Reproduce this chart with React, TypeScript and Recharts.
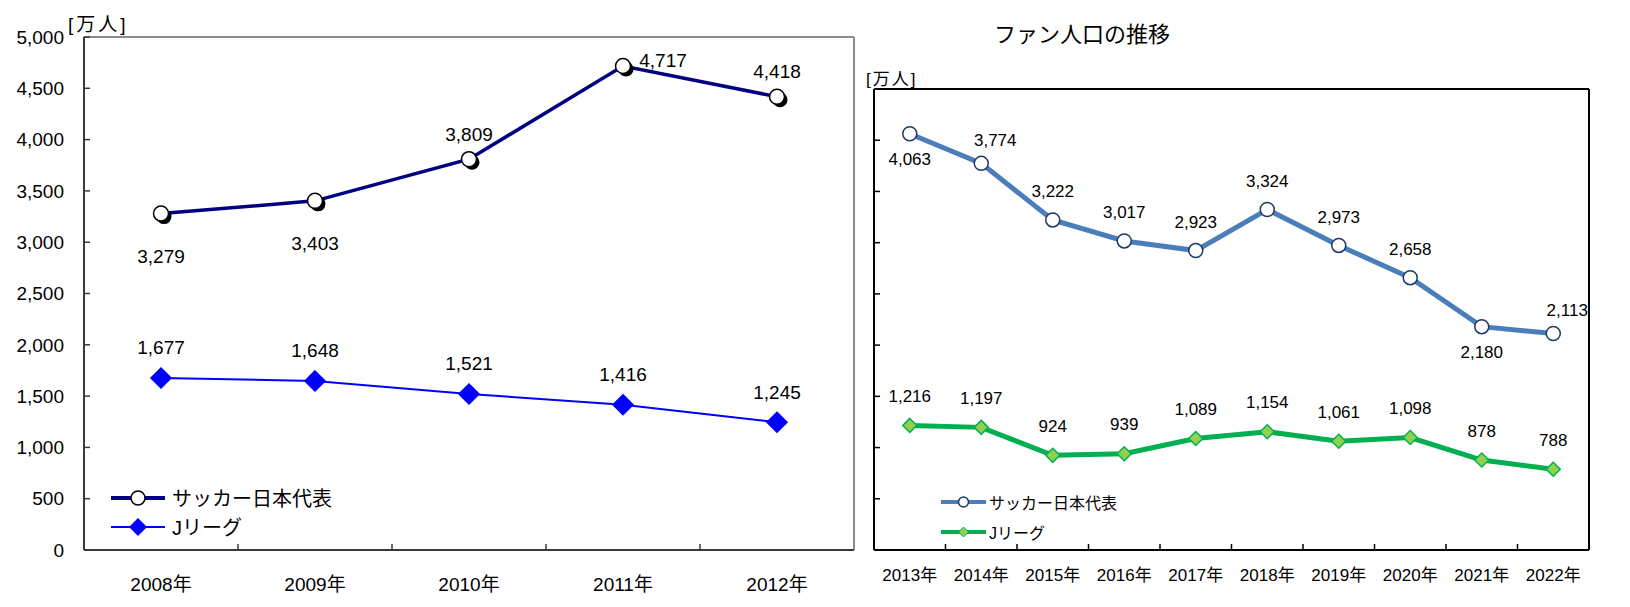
import React from 'react';
import { LineChart, Line, XAxis, YAxis, Legend, LabelList, CartesianGrid } from 'recharts';

const FONT = '"Liberation Sans", Arial, "Noto Sans CJK JP", sans-serif';

// left chart (2008-2012)
const earlyYears = ['2008年', '2009年', '2010年', '2011年', '2012年'];
const earlyNational = [3279, 3403, 3809, 4717, 4418];
const earlyJLeague = [1677, 1648, 1521, 1416, 1245];
const earlyTicks = [0, 500, 1000, 1500, 2000, 2500, 3000, 3500, 4000, 4500, 5000];

// right chart (2013-2022)
const recentYears = ['2013年', '2014年', '2015年', '2016年', '2017年', '2018年', '2019年', '2020年', '2021年', '2022年'];
const recentNational = [4063, 3774, 3222, 3017, 2923, 3324, 2973, 2658, 2180, 2113];
const recentJLeague = [1216, 1197, 924, 939, 1089, 1154, 1061, 1098, 878, 788];
const recentTicks = [0, 500, 1000, 1500, 2000, 2500, 3000, 3500, 4000, 4500];

const seriesNames = ['サッカー日本代表', 'Jリーグ'];
const title = 'ファン人口の推移';
const unit = '[万人]';

type Pos = 'above' | 'below' | 'right' | 'aboveRight';
const earlyNationalPos: Pos[] = ['below', 'below', 'above', 'right', 'above'];
const recentNationalPos: Pos[] = ['below', 'aboveRight', 'above', 'above', 'above', 'above', 'above', 'above', 'below', 'aboveRight'];

const early = earlyYears.map((year, i) => ({ year, national: earlyNational[i], jleague: earlyJLeague[i] }));
const recent = recentYears.map((year, i) => ({ year, national: recentNational[i], jleague: recentJLeague[i] }));

const fmt = (v: number) => Number(v).toLocaleString('en-US');

function makeLabel(pos: Pos[] | null, fontSize: number, above: number, below: number, side: [number, number]) {
  return (props: any) => {
    const { x, y, value, index } = props;
    const p: Pos = pos ? pos[index] ?? 'above' : 'above';
    let dx = 0;
    let dy = above;
    if (p === 'below') dy = below;
    if (p === 'right' || p === 'aboveRight') {
      dx = side[0];
      dy = side[1];
    }
    return (
      <text x={x + dx} y={y + dy} textAnchor="middle" dominantBaseline="central" fontSize={fontSize} fill="#000" fontFamily={FONT}>
        {fmt(value)}
      </text>
    );
  };
}

const shadowDot = (props: any) => {
  const { cx, cy, index } = props;
  return (
    <g key={`sd-${index}`}>
      <circle cx={cx + 3} cy={cy + 3} r={7.5} fill="#000" />
      <circle cx={cx} cy={cy} r={7.5} fill="#fff" stroke="#000" strokeWidth={1.5} />
    </g>
  );
};

const diamond = (s: number, fill: string, stroke: string) => (props: any) => {
  const { cx, cy, index } = props;
  return (
    <polygon
      key={`dm-${index}`}
      points={`${cx},${cy - s} ${cx + s},${cy} ${cx},${cy + s} ${cx - s},${cy}`}
      fill={fill}
      stroke={stroke}
      strokeWidth={1.5}
    />
  );
};

const ringDot = (props: any) => {
  const { cx, cy, index } = props;
  return <circle key={`rd-${index}`} cx={cx} cy={cy} r={7} fill="#fff" stroke="#1F3864" strokeWidth={1.5} />;
};

// category label + boundary tick (ticks sit between categories, pointing inward)
const boundaryTick = (step: number, margin: number, fontSize: number, color: string) => (props: any) => {
  const { x, y, payload, index } = props;
  const axisY = y - margin;
  return (
    <g>
      {index > 0 && (
        <line x1={x - step / 2} x2={x - step / 2} y1={axisY} y2={axisY - 6} stroke={color} strokeWidth={1.5} />
      )}
      <text x={x} y={y} dy="0.71em" textAnchor="middle" fontSize={fontSize} fill="#000" fontFamily={FONT}>
        {payload.value}
      </text>
    </g>
  );
};

// frame: one line along the top, one along the right edge of the plot
const topEdge = (p: any) => [p.offset.top];
const rightEdge = (p: any) => [p.offset.left + p.offset.width];

function LeftLegend() {
  return (
    <div style={{ fontSize: 20, fontFamily: FONT, color: '#000' }}>
      <div style={{ display: 'flex', alignItems: 'center', height: 29 }}>
        <svg width={54} height={20}>
          <line x1={0} x2={54} y1={10} y2={10} stroke="#000080" strokeWidth={4} />
          <circle cx={27} cy={10} r={7} fill="#fff" stroke="#000" strokeWidth={1.5} />
        </svg>
        <span style={{ marginLeft: 7 }}>{seriesNames[0]}</span>
      </div>
      <div style={{ display: 'flex', alignItems: 'center', height: 29 }}>
        <svg width={54} height={20}>
          <line x1={0} x2={54} y1={10} y2={10} stroke="#0000FF" strokeWidth={2} />
          <polygon points="27,1 36,10 27,19 18,10" fill="#0000FF" />
        </svg>
        <span style={{ marginLeft: 7 }}>{seriesNames[1]}</span>
      </div>
    </div>
  );
}

function RightLegend() {
  return (
    <div style={{ fontSize: 16, fontFamily: FONT, color: '#000' }}>
      <div style={{ display: 'flex', alignItems: 'center', height: 30 }}>
        <svg width={45} height={16}>
          <line x1={0} x2={45} y1={8} y2={8} stroke="#4A7DBA" strokeWidth={4} />
          <circle cx={22.5} cy={8} r={5} fill="#fff" stroke="#1F3864" strokeWidth={1.5} />
        </svg>
        <span style={{ marginLeft: 3 }}>{seriesNames[0]}</span>
      </div>
      <div style={{ display: 'flex', alignItems: 'center', height: 30 }}>
        <svg width={45} height={16}>
          <line x1={0} x2={45} y1={8} y2={8} stroke="#00B050" strokeWidth={4} />
          <polygon points="22.5,3 27.5,8 22.5,13 17.5,8" fill="#92D050" stroke="#00B050" strokeWidth={1} />
        </svg>
        <span style={{ marginLeft: 3 }}>{seriesNames[1]}</span>
      </div>
    </div>
  );
}

export default function App() {
  const leftStep = 770 / earlyYears.length;
  const rightStep = 715 / recentYears.length;
  return (
    <div style={{ position: 'absolute', left: 0, top: 0, width: 1630, height: 607, background: '#fff', fontFamily: FONT }}>
      <div style={{ position: 'absolute', left: 68, top: 12, fontSize: 19, lineHeight: '26px', letterSpacing: 3 }}>{unit}</div>
      <div style={{ position: 'absolute', left: 866, top: 68, fontSize: 17, lineHeight: '24px', letterSpacing: 2 }}>{unit}</div>
      <div style={{ position: 'absolute', left: 932, top: 20, width: 300, textAlign: 'center', fontSize: 22, lineHeight: '30px' }}>
        {title}
      </div>

      <div style={{ position: 'absolute', left: 0, top: 0 }}>
        <LineChart width={870} height={607} data={early} margin={{ top: 37, right: 16, bottom: 17, left: 0 }}>
          <CartesianGrid
            stroke="#8c8c8c"
            strokeWidth={2}
            horizontalCoordinatesGenerator={topEdge}
            verticalCoordinatesGenerator={rightEdge}
          />
          <XAxis
            dataKey="year"
            height={40}
            padding={{ left: leftStep / 2, right: leftStep / 2 }}
            axisLine={{ stroke: '#3a3a3a', strokeWidth: 2 }}
            tickLine={false}
            tickSize={0}
            tickMargin={28}
            tick={boundaryTick(leftStep, 28, 19, '#3a3a3a')}
            interval={0}
          />
          <YAxis
            width={84}
            domain={[0, 5000]}
            ticks={earlyTicks}
            interval={0}
            tickFormatter={fmt}
            tick={{ fill: '#000', fontSize: 19, fontFamily: FONT }}
            tickSize={-6}
            tickMargin={26}
            tickLine={{ stroke: '#3a3a3a', strokeWidth: 1.5 }}
            axisLine={{ stroke: '#3a3a3a', strokeWidth: 2 }}
          />
          <Legend
            layout="vertical"
            align="center"
            verticalAlign="middle"
            content={() => <LeftLegend />}
            wrapperStyle={{ left: 111, top: 483, width: 300 }}
          />
          <Line
            dataKey="national"
            name={seriesNames[0]}
            stroke="#000080"
            strokeWidth={3.5}
            dot={shadowDot}
            activeDot={false}
            isAnimationActive={false}
          >
            <LabelList dataKey="national" content={makeLabel(earlyNationalPos, 19, -25, 43, [40, -6])} />
          </Line>
          <Line
            dataKey="jleague"
            name={seriesNames[1]}
            stroke="#0000FF"
            strokeWidth={2}
            dot={diamond(10, '#0000FF', '#0000FF')}
            activeDot={false}
            isAnimationActive={false}
          >
            <LabelList dataKey="jleague" content={makeLabel(null, 19, -30, 30, [0, 0])} />
          </Line>
        </LineChart>
      </div>

      <div style={{ position: 'absolute', left: 830, top: 0 }}>
        <LineChart width={780} height={607} data={recent} margin={{ top: 89, right: 21, bottom: 17, left: 0 }}>
          <CartesianGrid
            stroke="#000"
            strokeWidth={2}
            horizontalCoordinatesGenerator={topEdge}
            verticalCoordinatesGenerator={rightEdge}
          />
          <XAxis
            dataKey="year"
            height={40}
            padding={{ left: rightStep / 2, right: rightStep / 2 }}
            axisLine={{ stroke: '#000', strokeWidth: 2 }}
            tickLine={false}
            tickSize={0}
            tickMargin={19}
            tick={boundaryTick(rightStep, 19, 17, '#000')}
            interval={0}
          />
          <YAxis
            width={44}
            domain={[0, 4500]}
            ticks={recentTicks}
            interval={0}
            tickFormatter={() => ''}
            tickSize={-6}
            tickLine={{ stroke: '#000', strokeWidth: 1.5 }}
            axisLine={{ stroke: '#000', strokeWidth: 2 }}
          />
          <Legend
            layout="vertical"
            align="center"
            verticalAlign="middle"
            content={() => <RightLegend />}
            wrapperStyle={{ left: 111, top: 487, width: 300 }}
          />
          <Line
            dataKey="national"
            name={seriesNames[0]}
            stroke="#4A7DBA"
            strokeWidth={5}
            dot={ringDot}
            activeDot={false}
            isAnimationActive={false}
          >
            <LabelList dataKey="national" content={makeLabel(recentNationalPos, 17, -28, 26, [14, -23])} />
          </Line>
          <Line
            dataKey="jleague"
            name={seriesNames[1]}
            stroke="#00B050"
            strokeWidth={5}
            dot={diamond(7, '#92D050', '#00B050')}
            activeDot={false}
            isAnimationActive={false}
          >
            <LabelList dataKey="jleague" content={makeLabel(null, 17, -29, 26, [0, 0])} />
          </Line>
        </LineChart>
      </div>
    </div>
  );
}
